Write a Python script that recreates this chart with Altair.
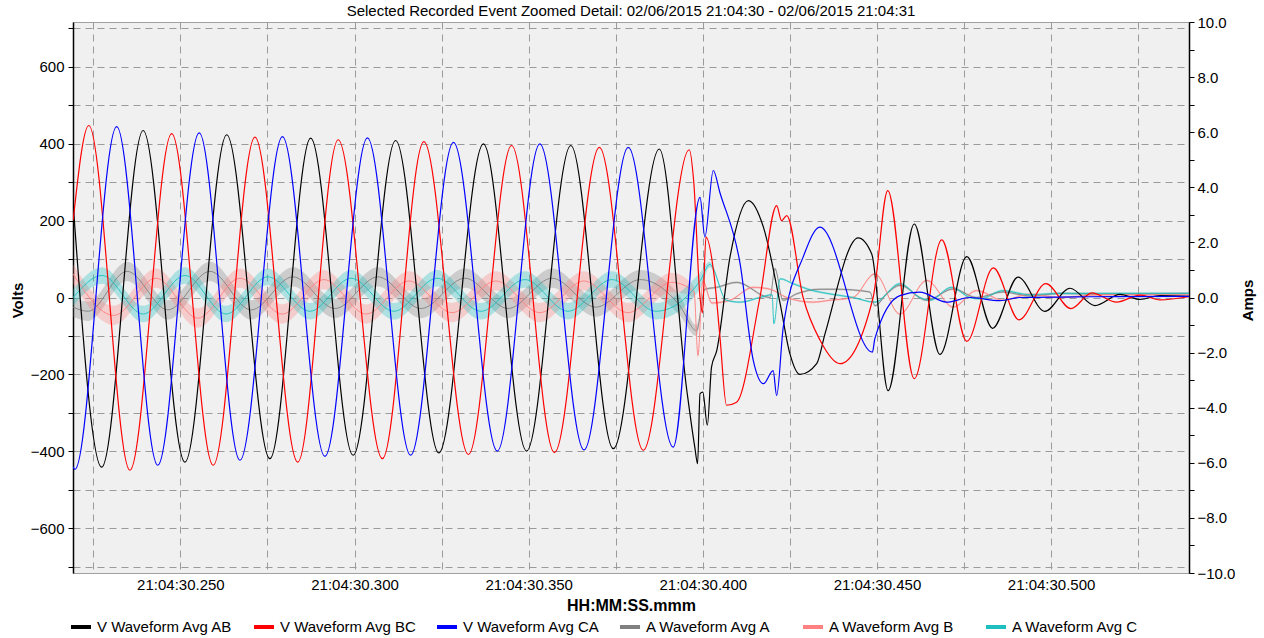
import altair as alt
import pandas as pd

# ---- time in ms after 21:04:30.000 ----
T_AB = [219.2, 227.4, 239.3, 251.3, 263.3, 275.7, 287.4, 299.6, 311.8, 324.2,
        337.0, 349.4, 362.1, 374.3, 387.5, 395.4, 397.7, 398.5, 399.2, 400.0,
        401.3, 402.5, 404.0, 407.8, 413.1, 417.4, 422.2, 425.0, 427.9, 432.7,
        435.1, 444.6, 448.5, 453.2, 460.7, 468.1, 475.8, 483.2, 490.5, 498.2,
        505.4, 512.6, 519.8, 525.5, 531.3, 539.6]
V_AB = [244, -441, 434, -428, 423, -419, 414, -410, 408, -404,
        399, -399, 395, -393, 386, -241, -389, -432, -250, -246,
        -332, -181, -138, 105, 252, 183, -16, -146, -200, -172,
        -94, 155, 113, -242, 191, -148, 106, -80, 53, -36,
        24, -21, 8, -5, 5, 3]

T_BC = [219.2, 223.7, 235.5, 247.5, 259.4, 271.4, 283.7, 295.3, 308.0, 319.9,
        332.7, 345.1, 357.4, 370.3, 382.9, 396.1, 397.4, 399.2, 399.9, 400.9,
        403.2, 404.9, 406.8, 409.7, 416.4, 421.2, 422.6, 424.1, 428.8, 433.6,
        439.4, 448.9, 453.1, 460.7, 468.6, 475.8, 483.4, 490.8, 498.5, 505.7,
        511.7, 518.8, 525.5, 531.3, 539.6]
V_BC = [200, 447, -449, 426, -436, 417, -428, 410, -419, 405,
        -408, 395, -403, 390, -397, 384, 300, 0, -40, 157,
        60, -100, -280, -272, 0, 239, 200, 213, 0, -110,
        -172, 0, 278, -211, 150, -114, 77, -58, 36, -29,
        12, -12, 6, -6, 2]

T_CA = [219.2, 219.7, 231.7, 243.5, 255.4, 267.1, 279.3, 291.5, 303.7, 316.1,
        328.4, 341.0, 353.2, 365.9, 378.6, 391.5, 399.2, 400.6, 403.0, 404.9,
        410.7, 414.5, 417.4, 420.2, 421.2, 423.1, 428.8, 433.6, 448.7, 449.4,
        456.6, 462.3, 470.0, 476.7, 485.3, 491.1, 510.0, 539.6]
V_CA = [-440, -447, 444, -436, 428, -423, 418, -413, 415, -410,
        403, -399, 399, -396, 390, -389, 260, 157, 330, 273,
        88, -164, -224, -190, -255, -77, 105, 183, -142, -107,
        5, 14, -12, 0, -8, 0, 2, 3]

T_A = [219.2, 223.5, 234.7, 246.4, 258.5, 270.3, 282.3, 294.4, 306.7, 319.1,
       331.7, 344.1, 356.7, 369.3, 382.0, 393.4, 398.2, 400.6, 404.0, 409.7,
       419.3, 420.7, 423.0, 426.9, 433.6, 438.4, 448.0, 449.4, 452.8, 456.6,
       464.3, 471.9, 478.6, 486.2, 493.9, 502.5, 514.0, 539.6]
I_A = [-0.35, -0.5, 0.95, -0.45, 0.95, -0.45, 0.75, -0.4, 0.75, -0.4,
       0.7, -0.4, 0.7, -0.35, 0.65, -0.3, -1.2, 0.3, 0.37, 0.55,
       0.0, 1.05, -0.1, 0.13, 0.3, 0.3, 0.2, -0.3, 0.13, 0.44,
       -0.1, 0.31, 0.0, 0.2, 0.05, 0.15, 0.12, 0.15]
N_A = [0.35, 0.35, 0.35, 0.35, 0.35, 0.35, 0.35, 0.35, 0.35, 0.35,
       0.35, 0.35, 0.35, 0.35, 0.35, 0.35, 0.2, 0.04, 0.04, 0.04,
       0.04, 0.04, 0.04, 0.04, 0.04, 0.04, 0.04, 0.04, 0.04, 0.04,
       0.04, 0.04, 0.04, 0.04, 0.04, 0.04, 0.04, 0.04]

T_B = [219.2, 230.9, 243.0, 255.0, 267.1, 279.2, 291.2, 303.3, 315.6, 328.0,
       340.6, 353.2, 365.9, 378.5, 391.1, 397.5, 398.6, 400.0, 402.6, 407.8,
       414.4, 419.3, 424.1, 431.6, 436.5, 443.1, 449.4, 456.6, 464.3, 471.9,
       478.6, 486.2, 493.9, 502.5, 514.0, 539.6]
I_B = [0.85, -0.65, 0.7, -0.75, 0.7, -0.6, 0.65, -0.6, 0.6, -0.55,
       0.6, -0.55, 0.6, -0.55, 0.55, 0.2, -2.1, 0.6, -0.2, -0.1,
       0.37, 0.3, 0.0, -0.17, -0.1, 0.0, 0.86, -0.6, 0.62, -0.35,
       0.25, -0.1, 0.12, 0.0, 0.1, 0.1]
N_B = [0.35, 0.35, 0.35, 0.35, 0.35, 0.35, 0.35, 0.35, 0.35, 0.35,
       0.35, 0.35, 0.35, 0.35, 0.35, 0.2, 0.1, 0.1, 0.05, 0.04,
       0.04, 0.04, 0.04, 0.04, 0.04, 0.04, 0.04, 0.04, 0.04, 0.04,
       0.04, 0.04, 0.04, 0.04, 0.04, 0.04]

T_C = [219.2, 227.5, 239.3, 251.3, 263.1, 275.1, 287.2, 299.0, 311.3, 323.7,
       336.3, 348.9, 361.3, 373.9, 386.5, 399.2, 402.0, 406.8, 410.7, 416.4,
       419.9, 420.4, 422.2, 425.9, 431.6, 436.5, 443.1, 449.4, 456.6, 462.3,
       465.2, 471.4, 476.7, 479.6, 486.2, 493.9, 502.5, 514.0, 539.6]
I_C = [0.0, 0.8, -0.6, 0.8, -0.6, 0.75, -0.5, 0.7, -0.5, 0.7,
       -0.5, 0.65, -0.5, 0.65, -0.5, 0.6, 1.2, -0.1, -0.17, 0.0,
       0.1, -0.95, 0.68, 0.5, 0.25, 0.13, 0.0, -0.17, 0.5, 0.0,
       -0.1, 0.37, 0.0, -0.05, 0.25, 0.1, 0.15, 0.15, 0.15]
N_C = [0.3, 0.3, 0.3, 0.3, 0.3, 0.3, 0.3, 0.3, 0.3, 0.3,
       0.3, 0.3, 0.3, 0.3, 0.3, 0.3, 0.1, 0.04, 0.04, 0.04,
       0.04, 0.04, 0.04, 0.04, 0.04, 0.04, 0.04, 0.04, 0.04, 0.04,
       0.04, 0.04, 0.04, 0.04, 0.04, 0.04, 0.04, 0.04, 0.04]

SERIES = ["V Waveform Avg AB", "V Waveform Avg BC", "V Waveform Avg CA",
          "A Waveform Avg A", "A Waveform Avg B", "A Waveform Avg C"]
COLORS = ["#000000", "#ff0000", "#0000ff", "#808080", "#ff8080", "#1fbfbf"]

VOLT_TICKS = [-700, -600, -500, -400, -300, -200, -100, 0, 100, 200, 300, 400, 500, 600, 700]
AMP_TICKS = [-10, -9, -8, -7, -6, -5, -4, -3, -2, -1, 0, 1, 2, 3, 4, 5, 6, 7, 8, 9, 10]
TIME_TICKS = [225, 250, 275, 300, 325, 350, 375, 400, 425, 450, 475, 500, 525]

TITLE = "Selected Recorded Event Zoomed Detail: 02/06/2015 21:04:30 - 02/06/2015 21:04:31"
FONT = "Liberation Sans"

rows_v = []
for name, T, V in [(SERIES[0], T_AB, V_AB), (SERIES[1], T_BC, V_BC), (SERIES[2], T_CA, V_CA)]:
    for t, v in zip(T, V):
        rows_v.append({"series": name, "t": t, "volts": v})
volts_df = pd.DataFrame(rows_v)

rows_a = []
for name, T, I, N in [(SERIES[3], T_A, I_A, N_A), (SERIES[4], T_B, I_B, N_B), (SERIES[5], T_C, I_C, N_C)]:
    for t, a, n in zip(T, I, N):
        rows_a.append({"series": name, "t": t, "amps": a, "lo": a - n, "hi": a + n})
amps_df = pd.DataFrame(rows_a)

color_scale = alt.Scale(domain=SERIES, range=COLORS)
x_axis = alt.Axis(
    values=TIME_TICKS,
    labelExpr="datum.value % 50 == 0 ? '21:04:30.' + format(datum.value, '03d') : ''",
    grid=True, gridColor="#9a9a9a", gridDash=[7, 5], gridWidth=1,
    ticks=False, domainColor="#a0a0a0", labelFont=FONT, labelFontSize=15,
    labelColor="#000000", labelPadding=4, labelFlush=False, labelOverlap=False,
    title="HH:MM:SS.mmm", titleFont=FONT, titleFontSize=16, titleFontWeight="bold",
    titleColor="#000000", titleX=558, titleY=32, titleBaseline="middle", titleAlign="center",
)
x_enc = alt.X("t:Q", scale=alt.Scale(domain=[219.16, 539.6], nice=False, zero=False), axis=x_axis)

legend = alt.Legend(
    orient="none", legendX=-4, legendY=593, direction="horizontal", columns=6,
    title=None, symbolType="stroke", symbolStrokeWidth=4, symbolSize=400,
    labelFont=FONT, labelFontSize=15, labelColor="#000000", labelLimit=300,
    gridAlign="all", columnPadding=12, labelOffset=4, symbolOpacity=1,
)

amps_y = alt.Scale(domain=[-10, 10], nice=False, zero=False)
amps_axis = alt.Axis(
    orient="right", values=AMP_TICKS,
    labelExpr="datum.value % 2 == 0 ? format(datum.value, '.1f') : ''",
    grid=False, domainColor="#000000", domainWidth=1.5, tickColor="#000000", tickSize=5,
    labelFont=FONT, labelFontSize=15, labelColor="#000000", labelPadding=3,
    labelFlush=False, labelOverlap=False,
    title="Amps", titleFont=FONT, titleFontSize=15, titleFontWeight="bold", titleColor="#000000",
    titleAngle=270, titleX=58, titleY=278, titleBaseline="middle", titleAlign="center",
)

bands = []
for name, col in zip(SERIES[3:], COLORS[3:]):
    bands.append(
        alt.Chart(amps_df).transform_filter(alt.datum.series == name)
        .mark_area(interpolate="monotone", fillOpacity=0.32, color=col, clip=True)
        .encode(x=x_enc, y=alt.Y("lo:Q", scale=amps_y, axis=amps_axis), y2="hi:Q")
    )
amps_line = alt.Chart(amps_df).mark_line(interpolate="monotone", strokeWidth=0.9, clip=True).encode(
    x=x_enc,
    y=alt.Y("amps:Q", scale=amps_y, axis=amps_axis),
    color=alt.Color("series:N", scale=color_scale, legend=legend),
)
amps_layer = alt.layer(*bands, amps_line)

volts_axis = alt.Axis(
    orient="left", values=VOLT_TICKS,
    labelExpr="datum.value % 200 == 0 ? datum.label : ''",
    grid=True, gridColor="#9a9a9a", gridDash=[7, 5], gridWidth=1,
    domainColor="#000000", domainWidth=1.5, tickColor="#000000", tickSize=5,
    labelFont=FONT, labelFontSize=15, labelColor="#000000", labelPadding=4,
    labelFlush=False, labelOverlap=False,
    title="Volts", titleFont=FONT, titleFontSize=15, titleFontWeight="bold", titleColor="#000000",
    titleAngle=270, titleX=-56, titleY=278, titleBaseline="middle", titleAlign="center",
)
volts_line = alt.Chart(volts_df).mark_line(interpolate="monotone", strokeWidth=1.2, clip=True).encode(
    x=x_enc,
    y=alt.Y("volts:Q", scale=alt.Scale(domain=[-716, 716], nice=False, zero=False), axis=volts_axis),
    color=alt.Color("series:N", scale=color_scale, legend=legend),
)

chart = alt.layer(amps_layer, volts_line).resolve_scale(y="independent").properties(
    width=1116, height=551,
    autosize=alt.AutoSizeParams(type="none"),
    padding={"left": 73, "top": 22, "right": 75, "bottom": 65},
    title=alt.Title(TITLE, font=FONT, fontSize=15, fontWeight="normal", color="#000000",
                    anchor="middle", offset=4, dy=8),
    background="#ffffff",
).configure_view(fill="#f0f0f0", stroke="#a0a0a0", strokeWidth=1)

chart.save("out.html", embed_options={"renderer": "svg", "actions": False})
